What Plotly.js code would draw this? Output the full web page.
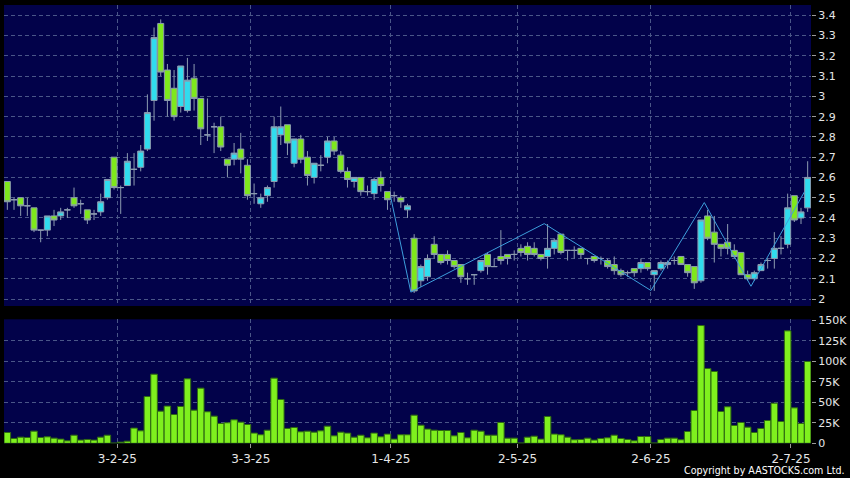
<!DOCTYPE html>
<html>
<head>
<meta charset="utf-8">
<script src="https://cdn.plot.ly/plotly-3.0.1.min.js"></script>
<style>
html,body{margin:0;padding:0;background:#000;}
#chart{width:850px;height:478px;}
</style>
</head>
<body>
<div id="chart"></div>
<script>
// Trading days (categories)
const dates = [
 '2025-01-06','2025-01-07','2025-01-08','2025-01-09','2025-01-10','2025-01-13','2025-01-14','2025-01-15','2025-01-16','2025-01-17',
 '2025-01-20','2025-01-21','2025-01-22','2025-01-23','2025-01-24','2025-01-27','2025-01-28',
 '2025-02-03','2025-02-04','2025-02-05','2025-02-06','2025-02-07','2025-02-10','2025-02-11','2025-02-12','2025-02-13','2025-02-14',
 '2025-02-17','2025-02-18','2025-02-19','2025-02-20','2025-02-21','2025-02-24','2025-02-25','2025-02-26','2025-02-27','2025-02-28',
 '2025-03-03','2025-03-04','2025-03-05','2025-03-06','2025-03-07','2025-03-10','2025-03-11','2025-03-12','2025-03-13','2025-03-14',
 '2025-03-17','2025-03-18','2025-03-19','2025-03-20','2025-03-21','2025-03-24','2025-03-25','2025-03-26','2025-03-27','2025-03-28','2025-03-31',
 '2025-04-01','2025-04-02','2025-04-03','2025-04-07','2025-04-08','2025-04-09','2025-04-10','2025-04-11','2025-04-14','2025-04-15',
 '2025-04-16','2025-04-17','2025-04-22','2025-04-23','2025-04-24','2025-04-25','2025-04-28','2025-04-29','2025-04-30',
 '2025-05-02','2025-05-06','2025-05-07','2025-05-08','2025-05-09','2025-05-12','2025-05-13','2025-05-14','2025-05-15','2025-05-16',
 '2025-05-19','2025-05-20','2025-05-21','2025-05-22','2025-05-23','2025-05-26','2025-05-27','2025-05-28','2025-05-29','2025-05-30',
 '2025-06-02','2025-06-03','2025-06-04','2025-06-05','2025-06-06','2025-06-09','2025-06-10','2025-06-11','2025-06-12','2025-06-13',
 '2025-06-16','2025-06-17','2025-06-18','2025-06-19','2025-06-20','2025-06-23','2025-06-24','2025-06-25','2025-06-26','2025-06-27','2025-06-30',
 '2025-07-02','2025-07-03','2025-07-04'
];

const openP = [
 2.58,2.49,2.50,2.46,2.45,2.34,2.34,2.41,2.41,2.44,
 2.50,2.47,2.44,2.42,2.43,2.50,2.70,2.55,2.56,2.64,
 2.65,2.74,2.98,3.36,3.13,3.04,2.95,2.93,3.09,2.99,
 2.81,2.85,2.85,2.69,2.69,2.74,2.66,2.52,2.47,2.51,
 2.58,2.81,2.86,2.67,2.79,2.70,2.60,2.66,2.70,2.78,
 2.71,2.63,2.58,2.60,2.53,2.52,2.60,2.53,2.51,2.50,
 2.44,2.30,2.09,2.11,2.27,2.22,2.22,2.19,2.17,2.10,
 2.12,2.14,2.22,2.16,2.21,2.22,2.22,2.25,2.26,2.25,
 2.22,2.21,2.25,2.32,2.24,2.24,2.25,2.20,2.21,2.20,
 2.19,2.17,2.14,2.13,2.15,2.15,2.18,2.12,2.15,2.17,
 2.19,2.21,2.17,2.16,2.09,2.41,2.33,2.27,2.28,2.24,
 2.23,2.12,2.10,2.14,2.19,2.20,2.25,2.27,2.51,2.40,2.45
];
const highP = [
 2.58,2.50,2.50,2.50,2.45,2.34,2.41,2.44,2.45,2.45,
 2.55,2.49,2.44,2.44,2.52,2.59,2.70,2.56,2.72,2.72,
 2.76,3.01,3.34,3.38,3.16,3.13,3.15,3.19,3.16,2.99,
 2.99,2.87,2.90,2.69,2.77,2.82,2.69,2.57,2.52,2.56,
 2.90,2.95,2.86,2.79,2.81,2.73,2.67,2.71,2.80,2.80,
 2.73,2.65,2.60,2.60,2.56,2.60,2.63,2.53,2.53,2.51,
 2.47,2.32,2.17,2.22,2.31,2.22,2.24,2.19,2.17,2.13,
 2.12,2.19,2.23,2.20,2.34,2.22,2.24,2.27,2.28,2.28,
 2.22,2.37,2.30,2.32,2.24,2.26,2.25,2.20,2.21,2.21,
 2.20,2.21,2.15,2.14,2.15,2.20,2.18,2.14,2.19,2.19,
 2.21,2.21,2.17,2.16,2.39,2.44,2.41,2.27,2.37,2.27,
 2.23,2.14,2.14,2.18,2.20,2.33,2.31,2.52,2.51,2.45,2.68
];
const lowP = [
 2.44,2.44,2.41,2.41,2.33,2.28,2.31,2.36,2.39,2.40,
 2.45,2.42,2.37,2.39,2.41,2.49,2.54,2.42,2.56,2.56,
 2.63,2.73,2.88,3.10,2.90,2.88,2.92,2.92,2.93,2.76,
 2.78,2.72,2.73,2.60,2.66,2.62,2.49,2.47,2.45,2.48,
 2.55,2.76,2.71,2.65,2.67,2.56,2.57,2.63,2.67,2.71,
 2.62,2.55,2.55,2.51,2.51,2.49,2.53,2.44,2.48,2.45,
 2.40,2.03,2.06,2.09,2.20,2.17,2.17,2.15,2.08,2.07,
 2.07,2.13,2.12,2.16,2.17,2.17,2.19,2.21,2.19,2.21,
 2.19,2.15,2.22,2.22,2.19,2.20,2.20,2.17,2.18,2.17,
 2.15,2.12,2.11,2.11,2.11,2.13,2.14,2.04,2.14,2.15,
 2.17,2.17,2.11,2.05,2.08,2.29,2.18,2.21,2.22,2.20,
 2.12,2.09,2.09,2.14,2.15,2.15,2.22,2.25,2.38,2.37,2.43
];
const closeP = [
 2.48,2.49,2.46,2.46,2.34,2.34,2.41,2.39,2.43,2.44,
 2.46,2.47,2.39,2.42,2.48,2.59,2.55,2.55,2.68,2.64,
 2.73,2.92,3.29,3.12,2.98,2.90,3.15,3.08,2.99,2.84,
 2.81,2.85,2.75,2.66,2.72,2.69,2.51,2.52,2.50,2.55,
 2.85,2.85,2.77,2.79,2.69,2.61,2.67,2.66,2.78,2.73,
 2.63,2.59,2.60,2.53,2.53,2.59,2.56,2.49,2.51,2.48,
 2.46,2.04,2.16,2.20,2.22,2.18,2.19,2.16,2.11,2.10,
 2.12,2.19,2.16,2.16,2.19,2.20,2.22,2.23,2.22,2.22,
 2.20,2.25,2.29,2.23,2.24,2.24,2.22,2.20,2.19,2.20,
 2.16,2.14,2.12,2.13,2.13,2.18,2.15,2.14,2.18,2.18,
 2.19,2.17,2.13,2.08,2.39,2.30,2.27,2.25,2.25,2.21,
 2.12,2.10,2.13,2.17,2.19,2.25,2.25,2.45,2.39,2.43,2.60
];
const volume = [
 13200,5900,7500,7100,14800,7100,7900,6300,5100,3000,
 9900,3900,4700,3900,7500,9900,300,1400,2600,18500,
 15200,57000,84200,39200,45300,35100,44900,78600,40400,67200,
 38400,33100,24200,25000,28600,25800,22900,12400,10400,16000,
 79400,53400,18100,19300,14000,14800,13600,15200,20900,9100,
 13600,12400,7500,9900,6700,12400,7900,11200,5100,10400,
 10400,34300,22100,17300,16000,15600,15600,9100,13200,6700,
 16000,14800,9900,9900,25400,6300,6300,400,7500,8700,
 5100,32700,11200,10400,7500,4300,4700,6300,3900,5900,
 6700,9900,5900,4700,3000,8300,8300,400,4700,6300,
 6300,4300,14400,40000,143500,91100,87500,38800,44500,21700,
 25400,19700,13200,18100,27800,48900,26600,137000,43200,24200,99700
];

// Zigzag overlay
const zigzagDates = ['2025-04-01','2025-04-07','2025-05-09','2025-06-02','2025-06-12','2025-06-23','2025-07-04'];
const zigzagPrices = [2.50, 2.034, 2.372, 2.042, 2.476, 2.063, 2.528];

// Tick labels
const monthTickDates = ['2025-02-03','2025-03-03','2025-04-01','2025-05-02','2025-06-02','2025-07-02'];
const monthTickLabels = ['3-2-25','3-3-25','1-4-25','2-5-25','2-6-25','2-7-25'];
const priceTicks = [2.0,2.1,2.2,2.3,2.4,2.5,2.6,2.7,2.8,2.9,3.0,3.1,3.2,3.3,3.4];
const priceTickLabels = ['2','2.1','2.2','2.3','2.4','2.5','2.6','2.7','2.8','2.9','3','3.1','3.2','3.3','3.4'];
const volumeTicks = [0,25000,50000,75000,100000,125000,150000];
const volumeTickLabels = ['0','25K','50K','75K','100K','125K','150K'];

const idx = dates.map((d, i) => i);
const pos = d => dates.indexOf(d);
const monthTickVals = monthTickDates.map(d => pos(d) - 0.5);
const zigX = zigzagDates.map(d => pos(d) - 0.5);

const FONT = 'DejaVu Sans, sans-serif';
const FONT_C = 'DejaVu Sans Condensed, Liberation Sans Narrow, DejaVu Sans, sans-serif';
const GRID = '#4a5688';
const WICK = '#8d9cb0';

const traces = [
  {
    type: 'candlestick', x: idx, open: openP, high: highP, low: lowP, close: closeP,
    xaxis: 'x', yaxis: 'y',
    increasing: {fillcolor: '#30dcee', line: {color: WICK, width: 1}},
    decreasing: {fillcolor: '#7fe81c', line: {color: WICK, width: 1}},
    whiskerwidth: 0, hoverinfo: 'skip'
  },
  {
    type: 'scatter', mode: 'lines', x: zigX, y: zigzagPrices,
    xaxis: 'x', yaxis: 'y', line: {color: '#3d9fdc', width: 1}, hoverinfo: 'skip'
  },
  {
    type: 'bar', x: idx, y: volume, xaxis: 'x2', yaxis: 'y2',
    marker: {color: '#7ff01e', line: {color: '#2f6a12', width: 1}}, hoverinfo: 'skip'
  }
];

const xDomain = [4/850, 811/850];
const layout = {
  width: 850, height: 478,
  margin: {l: 0, r: 0, t: 0, b: 0},
  paper_bgcolor: '#000000', plot_bgcolor: '#02024a',
  showlegend: false,
  boxgap: 0.1, boxgroupgap: 0,
  bargap: 0.02,
  font: {family: FONT, size: 11, color: '#e6e6e6'},
  xaxis: {
    domain: xDomain, anchor: 'y', range: [-0.5, 120.5],
    tickmode: 'array', tickvals: monthTickVals, ticktext: monthTickLabels,
    showticklabels: false, ticks: '',
    showgrid: true, gridcolor: GRID, griddash: '4px,3px', gridwidth: 1,
    zeroline: false, showline: false, rangeslider: {visible: false}, fixedrange: true
  },
  xaxis2: {
    domain: xDomain, anchor: 'y2', range: [-0.5, 120.5],
    tickmode: 'array', tickvals: monthTickVals, ticktext: monthTickLabels,
    ticks: 'outside', ticklen: 4, tickcolor: '#9a9a9a', tickwidth: 1,
    tickfont: {family: FONT, size: 12, color: '#e6e6e6'},
    showgrid: true, gridcolor: GRID, griddash: '4px,3px', gridwidth: 1,
    zeroline: false, showline: false, fixedrange: true
  },
  yaxis: {
    domain: [(478-306)/478, (478-5)/478], anchor: 'x', side: 'right',
    range: [1.9655, 3.451],
    tickmode: 'array', tickvals: priceTicks, ticktext: priceTickLabels,
    ticks: 'outside', ticklen: 4, tickcolor: '#9a9a9a', tickwidth: 1,
    tickfont: {family: FONT, size: 11, color: '#e6e6e6'},
    showgrid: true, gridcolor: GRID, griddash: '4px,3px', gridwidth: 1,
    zeroline: false, showline: false, fixedrange: true
  },
  yaxis2: {
    domain: [(478-443.3)/478, (478-319.3)/478], anchor: 'x2', side: 'right',
    range: [0, 151100],
    tickmode: 'array', tickvals: volumeTicks, ticktext: volumeTickLabels,
    ticks: 'outside', ticklen: 4, tickcolor: '#9a9a9a', tickwidth: 1,
    tickfont: {family: FONT, size: 11, color: '#e6e6e6'},
    showgrid: true, gridcolor: GRID, griddash: '4px,3px', gridwidth: 1,
    zeroline: false, showline: false, fixedrange: true
  },
  annotations: [{
    text: 'Copyright by AASTOCKS.com Ltd.', xref: 'paper', yref: 'paper',
    x: 847/850, y: (478-470)/478, xanchor: 'right', yanchor: 'middle',
    showarrow: false, font: {family: FONT_C, size: 10.6, color: '#ffffff'}
  }]
};

Plotly.newPlot('chart', traces, layout, {displayModeBar: false, staticPlot: true});
</script>
</body>
</html>
